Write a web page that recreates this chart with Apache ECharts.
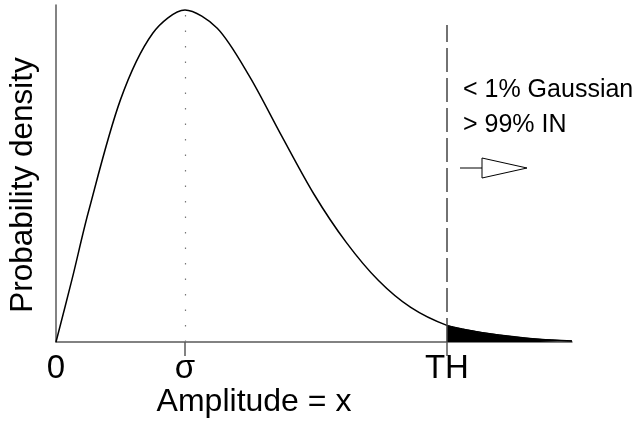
<!DOCTYPE html>
<html>
<head>
<meta charset="utf-8">
<script src="https://cdn.jsdelivr.net/npm/echarts@6/dist/echarts.min.js"></script>
<style>
  html, body { margin: 0; padding: 0; background: #fff; }
  #chart { width: 635px; height: 423px; }
</style>
</head>
<body>
<div id="chart"></div>
<script>
// amplitude in units of sigma, density normalised to the peak
const amplitude = [0, 0.125, 0.25, 0.5, 0.75, 1, 1.25, 1.5, 1.75, 2, 2.25, 2.5, 2.75, 3.03, 3.25, 3.5, 3.75, 4];
const density = [0, 0.19, 0.39, 0.73, 0.93, 1, 0.945, 0.8, 0.62, 0.445, 0.3, 0.185, 0.104, 0.05, 0.032, 0.018, 0.008, 0.003];
const threshold = 3.03;
const tickValues = [0, 1, threshold];
const tickLabels = ['0', 'σ', 'TH'];
const noteLines = ['< 1% Gaussian', '> 99% IN'];

const font = 'Liberation Sans, Arial, sans-serif';
const axisGray = '#5a5a5a';

const curve = amplitude.map((a, i) => [a, density[i]]);
const tail = curve.filter(p => p[0] >= threshold);

const chart = echarts.init(document.getElementById('chart'));
chart.setOption({
  animation: false,
  grid: { left: 56, right: 63, top: 5, bottom: 81 },
  xAxis: {
    type: 'value',
    min: 0,
    max: 4,
    axisLine: { show: true, onZero: false, lineStyle: { color: axisGray, width: 1.5 } },
    axisTick: {
      show: true,
      customValues: [1, threshold],
      length: 14,
      lineStyle: { color: axisGray, width: 1.5 }
    },
    axisLabel: {
      customValues: tickValues,
      formatter: v => tickLabels[tickValues.indexOf(v)] || '',
      margin: 10,
      fontSize: 33,
      fontFamily: font,
      color: '#000'
    },
    splitLine: { show: false }
  },
  yAxis: {
    type: 'value',
    min: 0,
    max: 1.015,
    axisLine: { show: true, lineStyle: { color: axisGray, width: 1.5 } },
    axisTick: { show: false },
    axisLabel: { show: false },
    splitLine: { show: false }
  },
  series: [
    {
      type: 'line',
      data: curve,
      smooth: 0.3,
      symbol: 'none',
      lineStyle: { color: '#000', width: 1.5 },
      z: 3,
      markLine: {
        silent: true,
        symbol: 'none',
        label: { show: false },
        data: [
          [
            { coord: [1, 0], lineStyle: { color: '#777', width: 1.2, type: [1.5, 14] } },
            { coord: [1, 0.985] }
          ],
          [
            { coord: [threshold, 0], lineStyle: { color: '#444', width: 1.5, type: [24, 6] } },
            { coord: [threshold, 0.955] }
          ]
        ]
      }
    },
    {
      type: 'line',
      data: tail,
      smooth: 0.3,
      symbol: 'none',
      lineStyle: { color: '#000', width: 1 },
      areaStyle: { color: '#000', opacity: 1 },
      z: 2
    }
  ],
  graphic: [
    {
      type: 'text',
      x: 254, y: 402,
      style: {
        text: 'Amplitude = x', fontSize: 32, fontFamily: font, fill: '#000',
        textAlign: 'center', textVerticalAlign: 'middle'
      }
    },
    {
      type: 'text',
      x: 23, y: 185,
      rotation: Math.PI / 2,
      style: {
        text: 'Probability density', fontSize: 31.5, fontFamily: font, fill: '#000',
        textAlign: 'center', textVerticalAlign: 'middle'
      }
    },
    {
      type: 'text',
      x: 463, y: 90,
      style: { text: noteLines[0], fontSize: 25, fontFamily: font, fill: '#000', textVerticalAlign: 'middle' }
    },
    {
      type: 'text',
      x: 463, y: 125,
      style: { text: noteLines[1], fontSize: 25, fontFamily: font, fill: '#000', textVerticalAlign: 'middle' }
    },
    {
      type: 'line',
      shape: { x1: 460, y1: 168, x2: 482, y2: 168 },
      style: { stroke: '#000', lineWidth: 1 }
    },
    {
      type: 'polygon',
      shape: { points: [[482, 158], [527, 168], [482, 178]] },
      style: { stroke: '#000', fill: '#fff', lineWidth: 1 }
    }
  ]
});
</script>
</body>
</html>
